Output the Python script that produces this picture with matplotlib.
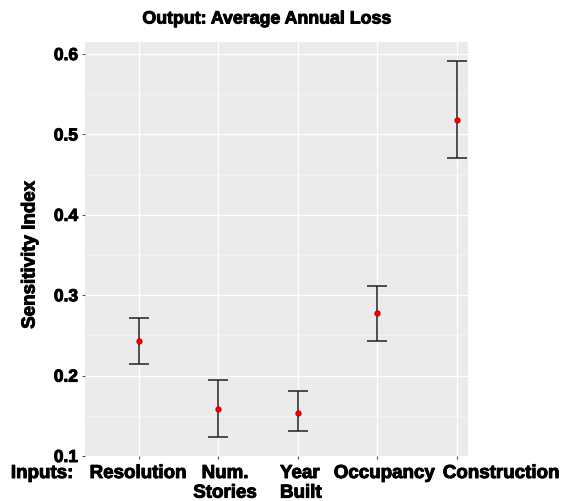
import matplotlib
matplotlib.use('Agg')
import matplotlib.pyplot as plt
import matplotlib.patheffects as pe
import numpy as np
from matplotlib.ticker import MultipleLocator

# Sensitivity indices with confidence bounds
inputs = ['Resolution', 'Num.\nStories', 'Year\nBuilt', 'Occupancy', 'Construction']
index_mean = [0.243, 0.158, 0.153, 0.278, 0.518]
index_low = [0.215, 0.124, 0.131, 0.243, 0.471]
index_high = [0.272, 0.195, 0.181, 0.311, 0.591]
y_ticks = [0.1, 0.2, 0.3, 0.4, 0.5, 0.6]

plt.style.use('ggplot')
plt.rcParams['font.family'] = ['Liberation Sans', 'DejaVu Sans']
bold = [pe.withStroke(linewidth=0.7, foreground='black')]

W, H = 565, 502
fig = plt.figure(figsize=(W / 100, H / 100), dpi=100)
ax = fig.add_axes([85 / W, 1 - 457 / H, 383 / W, 414 / H])
ax.set_facecolor('#EBEBEB')

x = np.arange(1, len(inputs) + 1)
mean = np.array(index_mean)
yerr = [mean - np.array(index_low), np.array(index_high) - mean]
ax.errorbar(x, mean, yerr=yerr, fmt='o', color='#222222', ecolor='#222222',
            elinewidth=1.1, capsize=7, capthick=1.1,
            markerfacecolor='red', markeredgecolor='#cc0000', markersize=3.5)

ax.set_xlim(0.32, 5.14)
ax.set_ylim(0.1, 0.615)
ax.set_xticks(x)
ax.set_xticklabels([])
ax.yaxis.set_minor_locator(MultipleLocator(0.05))
ax.set_yticks(y_ticks)
ax.set_yticklabels([f'{v:.1f}' for v in y_ticks], fontsize=12.5,
                   fontweight='bold', color='black', path_effects=bold)
ax.grid(True, which='major', color='white', linewidth=1.0)
ax.grid(True, which='minor', axis='y', color='#F5F5F5', linewidth=0.6)
ax.tick_params(axis='both', which='major', length=2, color='#555555')
ax.tick_params(axis='y', which='major', pad=3)
ax.tick_params(axis='y', which='minor', length=0)
for s in ax.spines.values():
    s.set_visible(False)

# category labels, placed like the original (not all centred on the ticks)
label_pos = [(138, 'center'), (225, 'center'), (280, 'left'), (384, 'center'), (501, 'center')]
for name, (px, ha) in zip(inputs, label_pos):
    fig.text(px / W, 1 - 466 / H, name, fontsize=13.5, fontweight='bold', ha=ha,
             va='top', multialignment=ha, linespacing=1.2, path_effects=bold)
fig.text(42 / W, 1 - 466 / H, 'Inputs:', fontsize=13.5, fontweight='bold',
         ha='center', va='top', path_effects=bold)

fig.text(30 / W, 1 - 256 / H, 'Sensitivity Index', fontsize=13.5, fontweight='bold',
         rotation=90, ha='center', va='center', path_effects=bold)
fig.text(267 / W, 1 - 20 / H, 'Output: Average Annual Loss', fontsize=12.8,
         fontweight='bold', ha='center', va='center', path_effects=bold)

fig.savefig('out.png', dpi=100)
